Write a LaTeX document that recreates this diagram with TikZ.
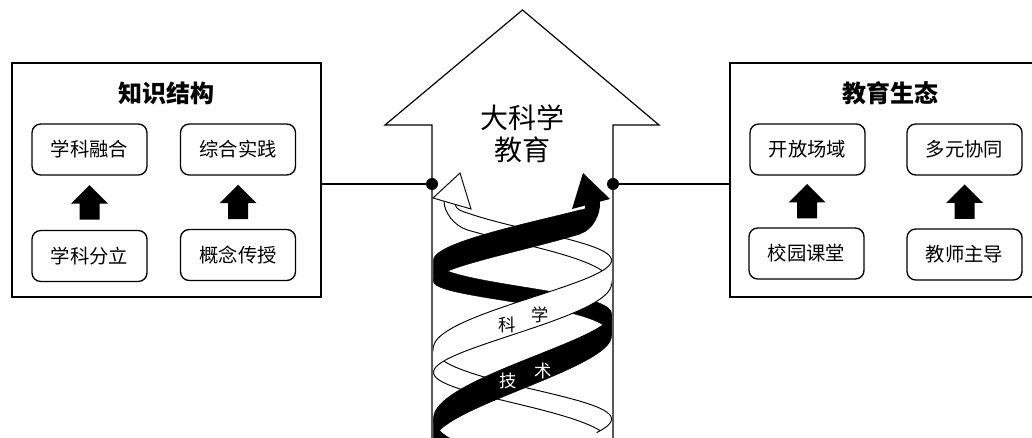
\documentclass[tikz,border=0pt]{standalone}
\usepackage{fontspec}
\newfontfamily\cjk{Noto Sans CJK SC}
\usetikzlibrary{calc}

\tikzset{
  bigbox/.style={draw, line width=1.2pt, minimum height=175.5pt},
  item/.style={draw, rounded corners=6.5pt, line width=1pt, minimum width=86.25pt,
    minimum height=38.25pt, font=\cjk\fontsize{14.5}{16}\selectfont},
  title/.style={font=\cjk\bfseries\fontsize{18}{20}\selectfont},
  link/.style={line width=1.5pt},
  helixline/.style={line width=0.7pt},
  helixtext/.style={font=\cjk\fontsize{13}{14}\selectfont, inner sep=0pt},
  blockup/.pic={\fill (-10,17) -- (-10,1) -- (-18.5,1) -- (0,-17.5) -- (18.5,1) -- (10,1) -- (10,17) -- cycle;},
  % helix: x from the angle, centre line and half width of each strand
  declare function={
    hx(\t)=522.5-89*sin((\t) r);
    bkc(\t)=374.83+28.75*(\t)+1.081*(\t)*(\t)+7.33*sin((\t) r);
    bkw(\t)=11.5+2.5*cos((\t) r)+0.2*(\t);
    whc(\t)=316+25.46*(\t)+4*sin((\t) r);
    whw(\t)=12+3.5*cos((\t) r)+0.2*(\t);
  }
}

% one half turn of each strand
\newcommand\blackband[2]{%
  \filldraw[line width=0.3pt] plot[domain=#1:#2,samples=40,variable=\t] ({hx(\t)},{bkc(\t)-bkw(\t)})
    -- plot[domain=#2:#1,samples=40,variable=\t] ({hx(\t)},{bkc(\t)+bkw(\t)}) -- cycle;}
\newcommand\whiteband[2]{%
  \fill[white] plot[domain=#1:#2,samples=40,variable=\t] ({hx(\t)},{whc(\t)-whw(\t)})
    -- plot[domain=#2:#1,samples=40,variable=\t] ({hx(\t)},{whc(\t)+whw(\t)}) -- cycle;
  \draw[helixline] plot[domain=#1:#2,samples=40,variable=\t] ({hx(\t)},{whc(\t)-whw(\t)});
  \draw[helixline] plot[domain=#1:#2,samples=40,variable=\t] ({hx(\t)},{whc(\t)+whw(\t)});}

\begin{document}
\begin{tikzpicture}[x=0.75pt, y=-0.75pt]
    \useasboundingbox (0,0) rectangle (1032,438);
    \clip (0,0) rectangle (1032,438);

    % left block
    \node[bigbox, minimum width=231.75pt] (zhishi) at (166.5,180) {};
    \node[title] (zhishititle) at (166,93) {知识结构};
    \node[item] (ronghe) at (89.5,149.5) {学科融合};
    \node[item] (shijian) at (238,149.5) {综合实践};
    \node[item] (fenli) at (89.5,256) {学科分立};
    \node[item] (chuanshou) at (238,255) {概念传授};
    \pic at ($(fenli.north)!0.5!(ronghe.south)$) {blockup};
    \pic at ($(chuanshou.north)!0.5!(shijian.south)$) {blockup};

    % right block
    \node[bigbox, minimum width=234pt] (shengtai) at (886,180) {};
    \node[title] (shengtaititle) at (890,93) {教育生态};
    \node[item] (changyu) at (807.5,149.5) {开放场域};
    \node[item] (xietong) at (964.5,149.5) {多元协同};
    \node[item] (ketang) at (806.5,253.5) {校园课堂};
    \node[item] (zhudao) at (964.5,254.5) {教师主导};
    \pic at ($(ketang.north)!0.5!(changyu.south)$) {blockup};
    \pic at ($(zhudao.north)!0.5!(xietong.south)$) {blockup};

    % big arrow
    \draw[line width=0.9pt] (432,445) -- (432,125) -- (385,125) -- (522.5,10)
        -- (659,125) -- (613,125) -- (613,445);
    \node[font=\cjk\fontsize{21}{24}\selectfont, align=center] (dakexue) at (522,134) {大科学\\教育};

    % joints
    \coordinate (ldot) at (432,184);
    \coordinate (rdot) at (613,184);
    \draw[link] (zhishi.east |- ldot) -- (ldot);
    \draw[link] (rdot) -- (shengtai.west |- rdot);
    \fill (ldot) circle[radius=4.5pt];
    \fill (rdot) circle[radius=4.5pt];

    % helix, back halves first
    \whiteband{-3.8}{-1.5708}
    \whiteband{1.5708}{4.7124}
    \blackband{-4.7124}{-1.5708}
    \blackband{1.5708}{2.4}
    \whiteband{-1.5708}{1.5708}
    \whiteband{4.7124}{5.3}
    \blackband{-7.0}{-4.7124}
    \blackband{-1.5708}{1.5708}

    % strand ends
    \coordinate (wtop) at ({hx(-3.8)},{whc(-3.8)-whw(-3.8)});
    \coordinate (wbot) at ({hx(-3.8)},{whc(-3.8)+whw(-3.8)});
    \coordinate (btop) at ({hx(-7.0)},{bkc(-7.0)-bkw(-7.0)});
    \coordinate (bbot) at ({hx(-7.0)},{bkc(-7.0)+bkw(-7.0)});

    \fill[white] (wtop) .. controls +(-8,-2.7) and (457,210) .. (455,204.4) -- (444,201.2)
        .. controls (444,212) and +(-14,-4) .. (wbot) -- cycle;
    \draw[helixline] (wtop) .. controls +(-8,-2.7) and (457,210) .. (455,204.4);
    \draw[helixline] (444,201.2) .. controls (444,212) and +(-14,-4) .. (wbot);
    \filldraw[fill=white, helixline] (433,198) -- (460,173) -- (471,209) -- cycle;

    \fill (btop) .. controls +(5,-1.3) and (585,209) .. (585,205.6) -- (572,209) -- (583,173)
        -- (610,199) -- (600,201.6) .. controls (601,214) and +(12,-3.8) .. (bbot) -- cycle;

    % labels on the strands
    \node[helixtext] (ke) at (507,325) {科};
    \node[helixtext] (xue) at (540,315) {学};
    \node[helixtext, text=white] (ji) at (508,381) {技};
    \node[helixtext, text=white] (shu) at (543,371) {术};

\end{tikzpicture}
\end{document}
